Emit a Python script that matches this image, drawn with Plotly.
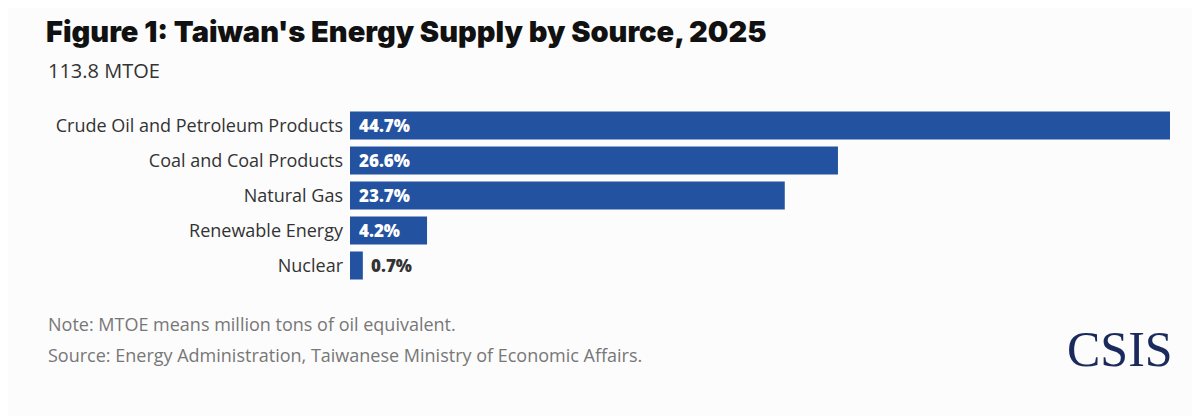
"""Horizontal bar chart: Taiwan's energy supply by source, 2025."""

import plotly.graph_objects as go

# data
sources = [
    "Crude Oil and Petroleum Products",
    "Coal and Coal Products",
    "Natural Gas",
    "Renewable Energy",
    "Nuclear",
]
shares = [44.7, 26.6, 23.7, 4.2, 0.7]
total_label = "113.8 MTOE"

BAR_COLOR = "#2352a0"
BG = "#fcfcfc"
TEXT_DARK = "#333333"
NOTE_GRAY = "#777777"
FONT = "Open Sans"

W, H = 1200, 416
OFF = 8  # page body margin the figure sits inside
L, R, T, B = 342, 38, 100, 141
plot_w = W - L - R
plot_h = H - T - B


def px_x(px):
    # screen pixel -> paper x
    return (px - OFF - L) / plot_w


def px_y(py):
    # screen pixel (from top) -> paper y
    return (H - B - (py - OFF)) / plot_h


fig = go.Figure(
    go.Bar(
        x=shares,
        y=sources,
        orientation="h",
        marker=dict(color=BAR_COLOR, line=dict(width=0)),
        hoverinfo="skip",
    )
)

# value labels: inside for big bars, outside for tiny ones
for src, val in zip(sources, shares):
    inside = val > 2
    fig.add_annotation(
        x=0 if inside else val,
        y=src,
        xref="x",
        yref="y",
        text=f"{val:.1f}%",
        showarrow=False,
        xanchor="left",
        xshift=7 if inside else 6,
        font=dict(family=FONT, size=17, weight=800,
                  color="white" if inside else TEXT_DARK),
    )

fig.add_annotation(
    x=px_x(46), y=px_y(71), xref="paper", yref="paper",
    text=total_label, showarrow=False, xanchor="left", yanchor="middle",
    font=dict(family=FONT, size=20, color=TEXT_DARK),
)
fig.add_annotation(
    x=px_x(46), y=px_y(324), xref="paper", yref="paper",
    text="Note: MTOE means million tons of oil equivalent.",
    showarrow=False, xanchor="left", yanchor="middle",
    font=dict(family=FONT, size=18, color=NOTE_GRAY),
)
fig.add_annotation(
    x=px_x(46), y=px_y(355), xref="paper", yref="paper",
    text="Source: Energy Administration, Taiwanese Ministry of Economic Affairs.",
    showarrow=False, xanchor="left", yanchor="middle",
    font=dict(family=FONT, size=18, color=NOTE_GRAY),
)
fig.add_annotation(
    x=1.0, y=px_y(349), xref="paper", yref="paper",
    text="CSIS", showarrow=False, xanchor="right", yanchor="middle",
    xshift=5,
    font=dict(family="Liberation Serif", size=50, color="#1b2a5c"),
)

fig.update_xaxes(
    range=[0, max(shares)],
    visible=False,
    showgrid=False,
    zeroline=False,
    fixedrange=True,
)
fig.update_yaxes(
    autorange="reversed",
    showgrid=False,
    showline=False,
    ticks="",
    ticklabelstandoff=6,
    tickfont=dict(family=FONT, size=18, color=TEXT_DARK),
    fixedrange=True,
)

fig.update_layout(
    title=dict(
        text="Figure 1: Taiwan's Energy Supply by Source, 2025",
        x=(46 - OFF) / W,
        xanchor="left",
        xref="container",
        y=1 - (32 - OFF) / H,
        yanchor="middle",
        yref="container",
        font=dict(family="Inter", size=29, color="#111111", weight=900),
    ),
    width=W,
    height=H,
    margin=dict(l=L, r=R, t=T, b=B),
    paper_bgcolor=BG,
    plot_bgcolor=BG,
    bargap=0.2,
    showlegend=False,
)

fig.write_html("out.html")
